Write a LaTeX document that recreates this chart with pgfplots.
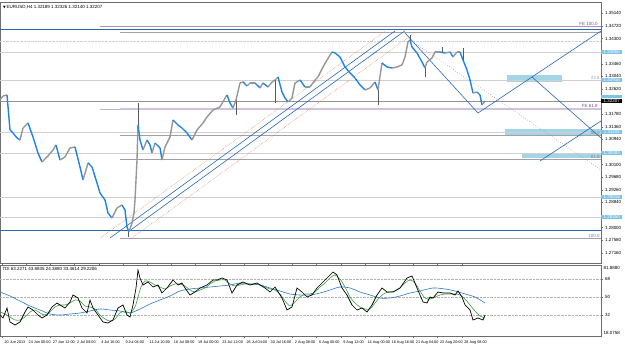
\documentclass[border=0pt]{standalone}
\usepackage{pgfplots}
\pgfplotsset{compat=1.18}
\usepackage{fontspec}
\setmainfont{Liberation Sans}
\newfontfamily\symfont{DejaVu Sans}
\definecolor{candleblue}{RGB}{30,130,230}
\definecolor{candlegray}{RGB}{150,150,150}
\definecolor{lineblue}{RGB}{40,105,180}
\definecolor{lightline}{RGB}{208,208,212}
\definecolor{fibgray}{RGB}{160,160,172}
\definecolor{lavender}{RGB}{205,195,225}
\definecolor{zone}{RGB}{165,212,228}
\definecolor{labelblue}{RGB}{125,195,232}
\definecolor{fepurple}{RGB}{130,70,150}
\definecolor{tdigreen}{RGB}{60,160,60}
\definecolor{tdiblue}{RGB}{40,120,200}
\definecolor{chanorange}{RGB}{225,125,85}
\definecolor{framegray}{RGB}{110,110,110}
\newcommand{\tf}{\fontsize{4.5}{5}\selectfont}
\newcommand{\df}{\fontsize{3.8}{4.2}\selectfont}
\tikzset{pbox/.style={anchor=west, fill=labelblue, text=white, inner sep=0.25bp, minimum width=21bp, font=\tf}}
\begin{document}
\begin{tikzpicture}
\begin{axis}[at={(0,81bp)}, anchor=south west, scale only axis,
  width=601bp, height=261bp, xmin=0, xmax=601, ymin=1.26816, ymax=1.35516,
  clip=false, axis line style={draw=framegray, line width=0.5pt},
  xtick=\empty,
  ytick={1.27160,1.27580,1.28000,1.28420,1.28840,1.29260,1.29680,1.30100,1.30520,1.30940,1.31360,1.31780,1.32200,1.32620,1.33040,1.33460,1.33880,1.34300,1.34720,1.35140},
  yticklabels={1.27160,1.27580,1.28000,,1.28840,1.29260,1.29680,1.30100,,1.30940,1.31360,1.31780,,1.32620,1.33040,1.33460,,1.34300,1.34720,1.35140},
  yticklabel pos=right, tick align=outside, major tick length=2bp,
  tick style={framegray, line width=0.3pt},
  scaled y ticks=false,
  yticklabel style={font=\tf, xshift=-1.5bp},
  colormap={updown}{rgb255=(150,150,150) rgb255=(30,130,230)},
  point meta min=0, point meta max=1]
% zones
\addplot[fill=zone, draw=none, forget plot] coordinates {(507,1.33083) (562,1.33083) (562,1.32850) (507,1.32850)} -- cycle;
\addplot[fill=zone, draw=none, forget plot] coordinates {(505,1.31283) (601,1.31283) (601,1.31033) (505,1.31033)} -- cycle;
\addplot[fill=zone, draw=none, forget plot] coordinates {(522,1.30483) (601,1.30483) (601,1.30316) (522,1.30316)} -- cycle;
% light horizontal lines
\addplot[lightline, line width=0.4pt, forget plot] coordinates {(0,1.33850) (601,1.33850)};
\addplot[lightline, line width=0.4pt, forget plot] coordinates {(0,1.32916) (601,1.32916)};
\addplot[lightline, line width=0.4pt, forget plot] coordinates {(0,1.31183) (601,1.31183)};
\addplot[lightline, line width=0.4pt, forget plot] coordinates {(0,1.30483) (601,1.30483)};
\addplot[lightline, line width=0.4pt, forget plot] coordinates {(0,1.29016) (601,1.29016)};
\addplot[lightline, line width=0.4pt, forget plot] coordinates {(0,1.28350) (601,1.28350)};
\addplot[lightline, densely dotted, line width=0.4pt, forget plot] coordinates {(0,1.34200) (601,1.34200)};
% bid line
\addplot[gray!85, line width=0.4pt, forget plot] coordinates {(0,1.32216) (601,1.32216)};
% blue horizontals
\addplot[lineblue, line width=0.6pt, forget plot] coordinates {(0,1.34600) (601,1.34600)};
\addplot[lineblue, line width=0.6pt, forget plot] coordinates {(0,1.27916) (601,1.27916)};
% fibo retracement
\addplot[fibgray, line width=0.4pt, forget plot] coordinates {(120,1.34516) (601,1.34516)};
\addplot[fibgray, line width=0.4pt, forget plot] coordinates {(120,1.31083) (601,1.31083)};
\addplot[fibgray, line width=0.4pt, forget plot] coordinates {(120,1.30273) (601,1.30273)};
\addplot[fibgray, line width=0.4pt, forget plot] coordinates {(120,1.27650) (601,1.27650)};
% fibo expansion
\addplot[fepurple!60, line width=0.5pt, forget plot] coordinates {(100,1.34716) (601,1.34716)};
\addplot[lavender, line width=2.2pt, forget plot] coordinates {(120,1.31950) (601,1.31950)};
\addplot[fepurple!45, line width=0.4pt, forget plot] coordinates {(100,1.31950) (120,1.31950)};
% channel
\addplot[chanorange, densely dotted, line width=0.5pt, forget plot] coordinates {(100,1.27641) (385,1.34541)};
\addplot[chanorange, densely dotted, line width=0.5pt, forget plot] coordinates {(132,1.27650) (415,1.34501)};
\addplot[lineblue, line width=0.6pt, forget plot] coordinates {(110,1.27650) (395,1.34550)};
\addplot[lineblue, line width=0.6pt, forget plot] coordinates {(128,1.27853) (405,1.34559)};
% other trend lines
\addplot[gray, dotted, line width=0.5pt, forget plot] coordinates {(410,1.34250) (601,1.29916)};
\addplot[lineblue, line width=0.6pt, forget plot] coordinates {(405,1.34483) (478,1.31816)};
\addplot[lineblue, line width=0.6pt, forget plot] coordinates {(478,1.31816) (601,1.34550)};
\addplot[lineblue, line width=0.6pt, forget plot] coordinates {(532,1.33016) (601,1.30983)};
\addplot[lineblue, line width=0.6pt, forget plot] coordinates {(540,1.30216) (601,1.31550)};
% wicks
\addplot[gray!70!black, line width=0.4pt, unbounded coords=jump, forget plot] table {
x p
128 1.27850
128 1.27683
128 nan
138 1.31416
138 1.32150
138 nan
236 1.32250
236 1.31750
236 nan
275 1.32916
275 1.32150
275 nan
378 1.32583
378 1.32083
378 nan
410 1.34250
410 1.34416
410 nan
425 1.33316
425 1.33016
425 nan
442 1.33850
442 1.34016
442 nan
463 1.33583
463 1.33983
};
% price
\addplot[mesh, shader=flat corner, line width=1.4pt, point meta=explicit, forget plot] table[x=x, y=p, meta=m] {
x p m
0 1.32250 0
3 1.32383 0
7 1.32417 1
10 1.31250 1
13 1.31150 1
17 1.30983 1
20 1.30917 0
23 1.31316 0
28 1.31483 1
33 1.31016 1
38 1.30483 1
42 1.30183 0
47 1.30350 0
53 1.30583 0
56 1.30750 1
60 1.30250 0
65 1.30350 0
70 1.30650 0
75 1.30683 1
80 1.30016 1
83 1.29583 0
88 1.30150 1
92 1.30016 1
97 1.29483 1
100 1.29150 1
105 1.28916 1
108 1.28483 1
112 1.28316 0
117 1.28650 0
122 1.28750 1
125 1.28583 1
127 1.28016 1
129 1.27850 0
132 1.28150 0
134 1.28483 0
135 1.28916 0
137 1.30250 0
138 1.31416 1
140 1.30917 1
143 1.30583 0
147 1.30917 1
150 1.30750 1
152 1.30483 0
155 1.30816 1
160 1.30650 1
162 1.30250 0
165 1.30683 0
170 1.31016 0
173 1.31583 1
178 1.31416 1
182 1.31316 1
187 1.31150 1
192 1.30917 0
197 1.31250 0
203 1.31483 0
207 1.31683 0
213 1.31916 0
220 1.32016 0
224 1.32250 0
227 1.32417 1
230 1.32150 1
233 1.31983 0
236 1.32250 0
240 1.32816 0
243 1.32850 1
247 1.32716 0
250 1.32816 0
255 1.32816 1
260 1.32650 0
263 1.32816 1
268 1.32683 0
272 1.32850 0
275 1.32916 0
278 1.33016 1
282 1.32516 1
285 1.32316 1
288 1.32183 0
292 1.32316 0
295 1.32816 0
300 1.32916 1
305 1.32683 0
310 1.32683 0
315 1.32916 0
318 1.33016 0
323 1.33350 0
327 1.33583 0
332 1.33850 1
335 1.33816 1
340 1.33683 1
345 1.33350 1
350 1.33150 1
355 1.32983 1
360 1.32750 1
365 1.32583 0
370 1.32650 0
375 1.32850 1
378 1.32583 0
382 1.33483 1
387 1.33350 1
392 1.33316 0
397 1.33350 0
402 1.33416 0
405 1.33683 0
408 1.34183 0
410 1.34250 1
412 1.34016 1
417 1.33816 1
422 1.33516 1
425 1.33316 0
427 1.33516 0
432 1.33650 0
435 1.33850 0
440 1.33850 1
445 1.33816 0
450 1.33850 1
453 1.33683 0
457 1.33850 0
460 1.33850 1
463 1.33583 1
467 1.33250 1
470 1.32916 1
473 1.32483 0
477 1.32516 1
480 1.32416 1
482 1.32083 0
485 1.32216 0
};
% labels in plot
\node[anchor=south east, inner sep=0.3bp, font=\tf, text=fepurple] at (axis cs:598,1.34716) {FE 100.0};
\node[anchor=south east, inner sep=0.3bp, font=\tf, text=fepurple] at (axis cs:598,1.31990) {FE 61.8};
\node[anchor=south east, inner sep=0.3bp, font=\tf, text=fibgray] at (axis cs:600,1.32916) {23.6};
\node[anchor=south east, inner sep=0.3bp, font=\tf, text=fibgray!80!black] at (axis cs:600,1.31083) {50.0};
\node[anchor=south east, inner sep=0.3bp, font=\tf, text=fibgray!80!black] at (axis cs:600,1.30273) {61.8};
\node[anchor=south east, inner sep=0.3bp, font=\tf, text=fibgray!80!black] at (axis cs:600,1.27650) {100.0};
% axis price boxes
\node[pbox] at (axis cs:601,1.33850) {1.33850};
\node[pbox] at (axis cs:601,1.32916) {1.32916};
\node[pbox] at (axis cs:601,1.32366) {\phantom{1.32366}};
\node[pbox] at (axis cs:601,1.31183) {1.31183};
\node[pbox] at (axis cs:601,1.30483) {1.30483};
\node[pbox] at (axis cs:601,1.29016) {1.29016};
\node[pbox] at (axis cs:601,1.28350) {1.28350};
\node[pbox, fill=black] at (axis cs:601,1.32216) {1.32207};
\end{axis}

\begin{axis}[at={(0,8bp)}, anchor=south west, scale only axis,
  width=601bp, height=71bp, xmin=0, xmax=601, ymin=11, ymax=82,
  clip=false, axis line style={draw=framegray, line width=0.5pt},
  ytick={32,50,68}, yticklabels={32,50,68}, yticklabel pos=right, tick align=outside, major tick length=2bp,
  tick style={framegray, line width=0.3pt},
  yticklabel style={font=\tf, xshift=-1.5bp},
  xtick={2,26.2,50.4,74.6,98.8,123,147.2,171.4,195.6,219.8,244,268.2,292.4,316.6,340.8,365,389.2,413.4,437.6,461.8},
  xticklabels={20 Jun 2013,24 Jun 00:00,27 Jun 12:00,2 Jul 08:00,4 Jul 16:00,9 Jul 04:00,11 Jul 20:00,16 Jul 08:00,19 Jul 00:00,23 Jul 12:00,26 Jul 04:00,30 Jul 16:00,2 Aug 08:00,6 Aug 00:00,9 Aug 12:00,14 Aug 00:00,16 Aug 16:00,21 Aug 04:00,23 Aug 20:00,28 Aug 08:00},
  xticklabel style={font=\df, anchor=north west, xshift=-1bp, yshift=1bp},
  ]
\addplot[gray!60, densely dotted, line width=0.4pt, forget plot] coordinates {(0,68) (601,68)};
\addplot[gray!60, densely dotted, line width=0.4pt, forget plot] coordinates {(0,50) (601,50)};
\addplot[gray!60, densely dotted, line width=0.4pt, forget plot] coordinates {(0,32) (601,32)};
% base line
\addplot[tdiblue, line width=0.6pt, smooth] coordinates {
(0,55) (10,51) (20,46) (30,41) (40,37) (50,33) (60,32) (70,33) (80,34) (90,36) (100,38) (110,37) (120,36) (130,34) (140,38) (150,43) (160,47) (170,51) (180,56) (190,58) (200,59) (210,60) (220,61) (230,62) (240,64) (250,63) (260,62) (270,59) (280,56) (290,53) (300,52) (310,52) (320,54) (330,57) (340,60) (350,59) (360,55) (370,52) (380,49) (390,49) (400,51) (410,54) (420,56) (433,59) (445,58) (455,56) (465,53) (475,50) (485,44)};
% signal line
\addplot[tdigreen, line width=0.6pt, smooth] coordinates {
(0,35) (5,33) (10,30) (15,27) (20,27) (25,30) (30,35) (35,37) (40,34) (45,32) (50,35) (55,40) (60,42) (65,42) (70,44) (75,47) (80,46) (85,41) (90,40) (95,38) (100,32) (105,28) (110,26) (115,28) (120,34) (125,36) (130,34) (135,40) (138,50) (141,60) (145,66) (150,65) (155,62) (160,60) (165,58) (170,61) (175,63) (180,63) (185,61) (190,57) (195,55) (200,57) (205,59) (210,63) (215,66) (220,67) (225,67) (230,63) (235,61) (240,62) (245,63) (250,63) (255,63) (260,62) (265,60) (270,58) (275,57) (280,53) (285,46) (290,41) (295,45) (300,50) (305,53) (310,53) (315,55) (320,60) (325,64) (330,69) (335,72) (340,68) (345,60) (350,50) (355,44) (360,40) (365,38) (370,38) (375,44) (380,50) (385,54) (390,55) (395,56) (400,59) (405,64) (410,67) (415,64) (420,56) (425,49) (430,48) (435,50) (440,52) (445,53) (450,53) (455,53) (460,52) (465,48) (470,42) (475,36) (480,31) (485,29)};
% rsi line
\addplot[black, line width=0.7pt] coordinates {
(0,32) (3,29) (7,39) (10,25) (15,22) (20,25) (25,35) (28,40) (33,37) (38,32) (42,29) (47,32) (52,40) (57,44) (60,42) (65,39) (70,45) (73,52) (78,49) (82,39) (87,34) (90,47) (93,39) (98,32) (103,25) (108,24) (113,27) (118,39) (123,42) (127,32) (130,30) (133,42) (136,59) (138,77) (140,69) (143,62) (148,65) (153,60) (158,62) (162,54) (167,59) (173,67) (178,62) (182,64) (185,59) (190,52) (195,55) (200,59) (207,62) (213,67) (217,67) (222,69) (227,67) (232,54) (237,62) (243,65) (250,62) (257,64) (265,59) (270,55) (275,60) (282,49) (287,37) (292,40) (297,59) (302,55) (307,50) (312,52) (317,59) (323,65) (328,70) (333,75) (337,72) (342,59) (347,52) (352,42) (357,37) (362,39) (367,35) (372,42) (377,52) (382,59) (387,55) (393,55) (400,59) (407,69) (412,71) (417,59) (423,45) (427,44) (430,50) (433,49) (438,55) (443,54) (450,54) (455,52) (458,56) (462,50) (465,42) (470,37) (473,27) (478,29) (483,27) (485,32)};
\node[anchor=north west, font=\tf, inner sep=0.5bp] at (rel axis cs:0.003,0.97) {TDI 63.2271 43.8835 24.3880 33.4614 29.2206};
\node[anchor=north west, font=\tf, inner sep=0bp] at (rel axis cs:1.004,0.99) {81.8880};
\node[anchor=south west, font=\tf, inner sep=0bp] at (rel axis cs:1.004,0.02) {18.0758};
\end{axis}
\node[anchor=west, inner sep=0bp, font=\tf] at (3bp,337bp) {{\symfont\fontsize{3.5}{4}\selectfont ▼}\,EURUSD,H4\ 1.32189 1.32326 1.32140 1.32207};
\pgfresetboundingbox
\useasboundingbox (0,0) rectangle (625bp,344bp);
\end{tikzpicture}
\end{document}
